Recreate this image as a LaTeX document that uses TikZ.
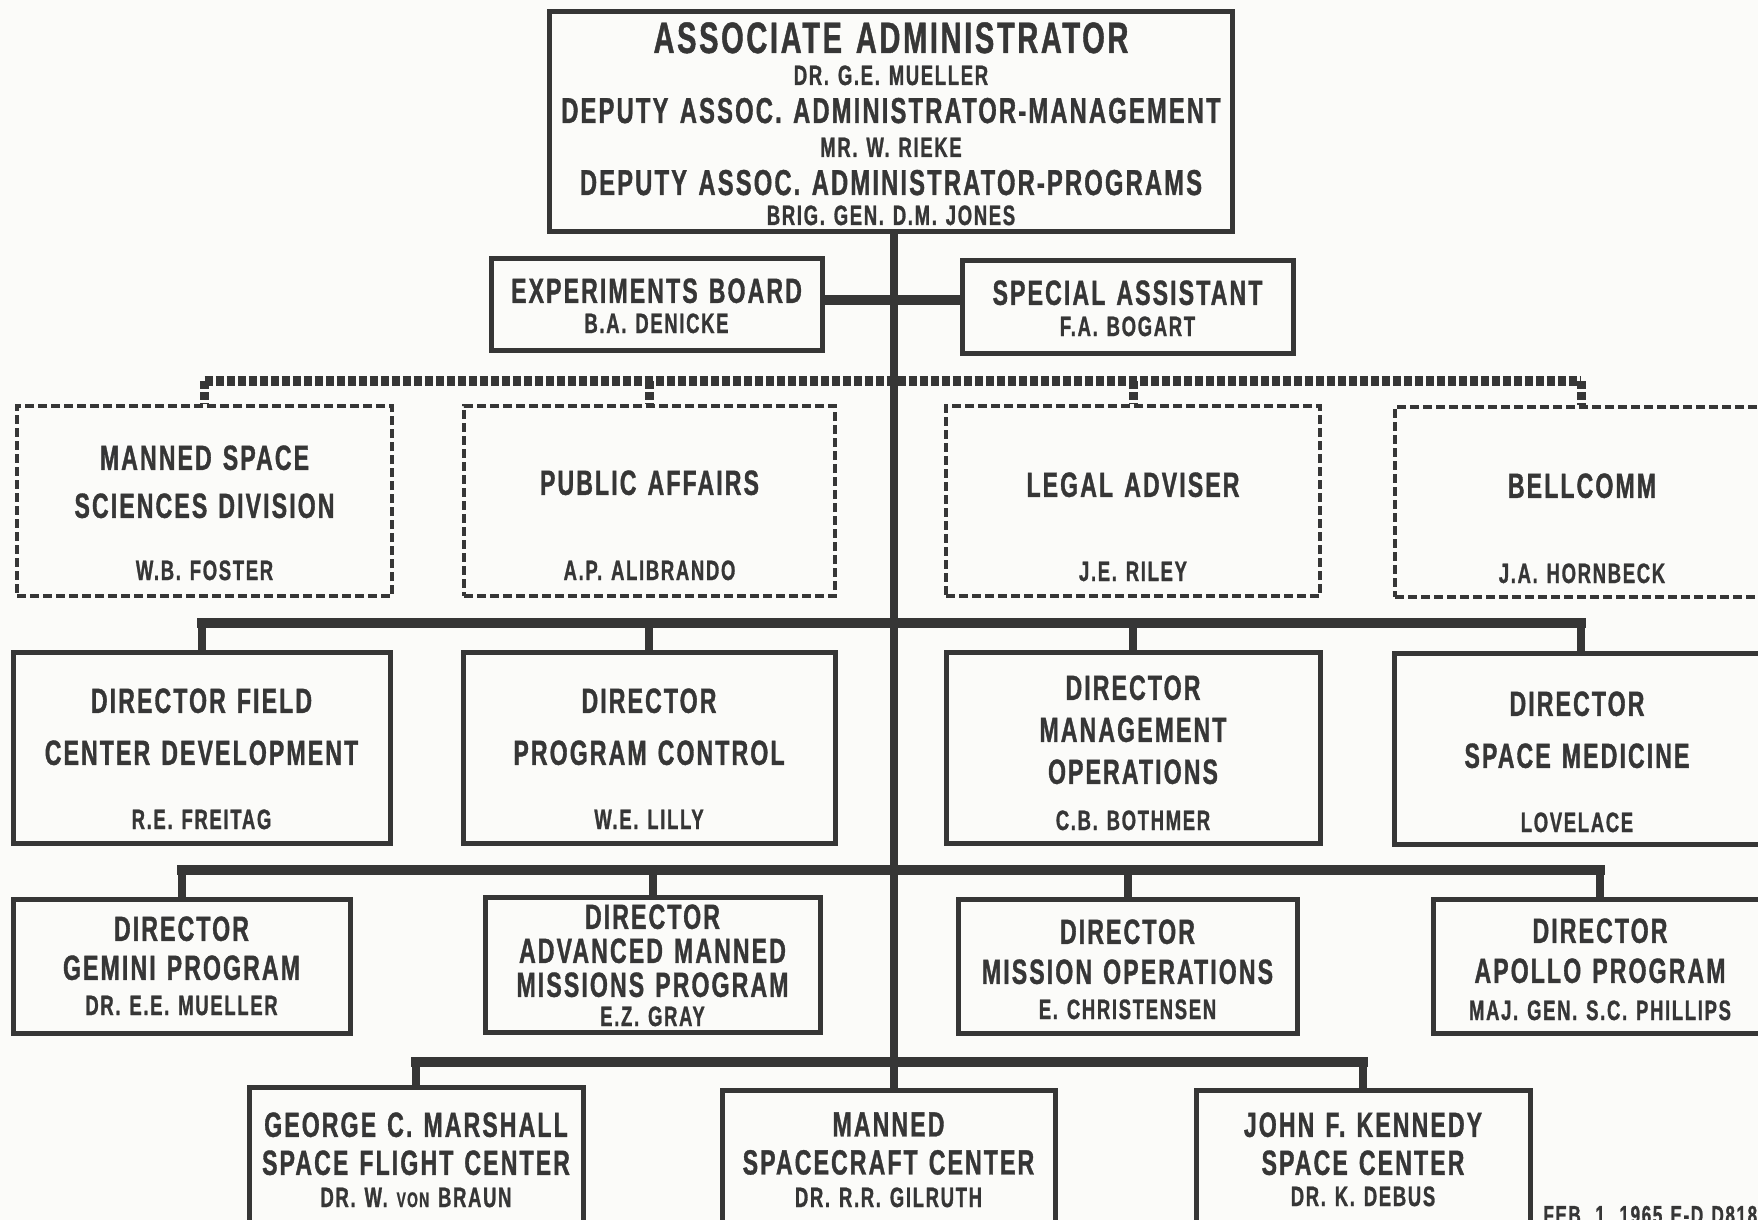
\documentclass[tikz,border=0pt]{standalone}
\usepackage{fontspec}
\setmainfont{Liberation Sans}[FakeStretch=0.66,LetterSpace=6,FakeBold=1,WordSpace=1.3]
\definecolor{ink}{HTML}{363636}
\definecolor{paper}{HTML}{FBFBF9}
\begin{document}
\begin{tikzpicture}[x=0.5pt,y=-0.5pt,
  box/.style={draw=ink, line width=2.5pt, inner sep=0pt, rectangle},
  dbox/.style={draw=ink, line width=2.3pt, dash pattern=on 4.5pt off 2pt, inner sep=0pt, rectangle},
  bar/.style={draw=ink, line width=5pt, line cap=rect},
  drop/.style={draw=ink, line width=4pt},
  trunk/.style={draw=ink, line width=4pt},
  dotbar/.style={draw=ink, line width=5pt, dash pattern=on 4pt off 1.5pt},
  dotdrop/.style={draw=ink, line width=4.5pt, dash pattern=on 4pt off 1.5pt},
  ttl/.style={font={\fontsize{17.5pt}{#1}\selectfont\bfseries}, align=center, anchor=north, inner sep=0pt, text=ink},
  nm/.style={font={\fontsize{14pt}{16pt}\selectfont\bfseries}, anchor=base, inner sep=0pt, text=ink},
  head/.style={font={\fontsize{22pt}{24pt}\selectfont\bfseries}, anchor=base, inner sep=0pt, text=ink},
  deputy/.style={font={\fontsize{18pt}{20pt}\selectfont\bfseries}, anchor=base, inner sep=0pt, text=ink},
  stamp/.style={font={\fontsize{13pt}{14pt}\selectfont\bfseries}, anchor=base west, inner sep=0pt, text=ink}
]
\useasboundingbox (0,0) rectangle (1758,1220);
\clip (0,0) rectangle (1758,1220);
\fill[paper] (0,0) rectangle (1758,1220);

% level heights of the connecting bars and the trunk position
\coordinate (tx) at (894,0);
\coordinate (dl) at (0,381);
\coordinate (l1) at (0,623);
\coordinate (l2) at (0,870);
\coordinate (l3) at (0,1062);
\coordinate (cx) at (0,300);

% ---------- boxes ----------
\node[box, minimum width=341.5pt, minimum height=110pt] (top) at (890.5,122) {};
\node[box, minimum width=165.5pt, minimum height=46pt] (exp) at (656.5,304) {};
\node[box, minimum width=165.5pt, minimum height=46.5pt] (spec) at (1127.5,306.5) {};

\node[dbox, minimum width=187.5pt, minimum height=95pt] (b11) at (204.5,501) {};
\node[dbox, minimum width=185.5pt, minimum height=95pt] (b12) at (649.5,501) {};
\node[dbox, minimum width=187pt, minimum height=95pt] (b13) at (1133,501) {};
\node[dbox, minimum width=186pt, minimum height=95pt] (b14) at (1581,502) {};

\node[box, minimum width=188.5pt, minimum height=95.5pt] (b21) at (201.5,747.5) {};
\node[box, minimum width=186pt, minimum height=95.5pt] (b22) at (649,747.5) {};
\node[box, minimum width=187pt, minimum height=95.5pt] (b23) at (1133,748) {};
\node[box, minimum width=186.5pt, minimum height=95.5pt] (b24) at (1580.5,749) {};

\node[box, minimum width=168.5pt, minimum height=67pt] (b31) at (181.5,966) {};
\node[box, minimum width=167.5pt, minimum height=67.5pt] (b32) at (652.5,965) {};
\node[box, minimum width=169.5pt, minimum height=67pt] (b33) at (1127.5,966) {};
\node[box, minimum width=167pt, minimum height=67pt] (b34) at (1600,966.5) {};

\node[box, minimum width=167pt, minimum height=81.5pt] (b41) at (416,1168.5) {};
\node[box, minimum width=166.5pt, minimum height=80pt] (b42) at (888.5,1170) {};
\node[box, minimum width=167pt, minimum height=80pt] (b43) at (1363,1170) {};

% ---------- connectors ----------
\draw[bar] (exp.east |- cx) -- (spec.west |- cx);

\draw[dotbar] (b11.north |- dl) -- (b14.north |- dl);
\foreach \b in {b11,b12,b13,b14} \draw[dotdrop] (\b.north |- dl) -- (\b.north);

\draw[bar] (b21.north |- l1) -- (b24.north |- l1);
\foreach \b in {b21,b22,b23,b24} \draw[drop] (\b.north |- l1) -- (\b.north);

\draw[bar] (b31.north |- l2) -- (b34.north |- l2);
\foreach \b in {b31,b32,b33,b34} \draw[drop] (\b.north |- l2) -- (\b.north);

\draw[bar] (b41.north |- l3) -- (b43.north |- l3);
\foreach \b in {b41,b43} \draw[drop] (\b.north |- l3) -- (\b.north);

\draw[trunk] (top.south -| tx) -- (b42.north -| tx);

% ---------- texts ----------
\node[head]   (h1) at (891,53)  {ASSOCIATE ADMINISTRATOR};
\node[nm]     (h2) at (891,85)  {DR. G.E. MUELLER};
\node[deputy] (h3) at (891,123) {DEPUTY ASSOC. ADMINISTRATOR-MANAGEMENT};
\node[nm]     (h4) at (891,157) {MR. W. RIEKE};
\node[deputy] (h5) at (891,195) {DEPUTY ASSOC. ADMINISTRATOR-PROGRAMS};
\node[nm]     (h6) at (891,225) {BRIG. GEN. D.M. JONES};

\node[ttl=20pt] (expt) at (656.5,278) {EXPERIMENTS BOARD};
\node[nm] (expn) at (656.5,333) {B.A. DENICKE};
\node[ttl=20pt] (spect) at (1127.5,280) {SPECIAL ASSISTANT};
\node[nm] (specn) at (1127.5,336) {F.A. BOGART};

\node[ttl=24pt] (t11) at (204.5,445) {MANNED SPACE\\SCIENCES DIVISION};
\node[nm] (n11) at (204.5,580) {W.B. FOSTER};
\node[ttl=24pt] (t12) at (649.5,470) {PUBLIC AFFAIRS};
\node[nm] (n12) at (649.5,580) {A.P. ALIBRANDO};
\node[ttl=24pt] (t13) at (1133,472) {LEGAL ADVISER};
\node[nm] (n13) at (1133,581) {J.E. RILEY};
\node[ttl=24pt] (t14) at (1582,473) {BELLCOMM};
\node[nm] (n14) at (1582,583) {J.A. HORNBECK};

\node[ttl=26pt] (t21) at (201.5,688) {DIRECTOR FIELD\\CENTER DEVELOPMENT};
\node[nm] (n21) at (201.5,829) {R.E. FREITAG};
\node[ttl=26pt] (t22) at (649,688) {DIRECTOR\\PROGRAM CONTROL};
\node[nm] (n22) at (649,829) {W.E. LILLY};
\node[ttl=21pt] (t23) at (1133,675) {DIRECTOR\\MANAGEMENT\\OPERATIONS};
\node[nm] (n23) at (1133,830) {C.B. BOTHMER};
\node[ttl=26pt] (t24) at (1577,691) {DIRECTOR\\SPACE MEDICINE};
\node[nm] (n24) at (1577,832) {LOVELACE};

\node[ttl=19.5pt] (t31) at (181.5,916) {DIRECTOR\\GEMINI PROGRAM};
\node[nm] (n31) at (181.5,1015) {DR. E.E. MUELLER};
\node[ttl=17pt] (t32) at (652.5,904) {DIRECTOR\\ADVANCED MANNED\\MISSIONS PROGRAM};
\node[nm] (n32) at (652.5,1026) {E.Z. GRAY};
\node[ttl=20pt] (t33) at (1127.5,919) {DIRECTOR\\MISSION OPERATIONS};
\node[nm] (n33) at (1127.5,1019) {E. CHRISTENSEN};
\node[ttl=20pt] (t34) at (1600,918) {DIRECTOR\\APOLLO PROGRAM};
\node[nm] (n34) at (1600,1020) {MAJ. GEN. S.C. PHILLIPS};

\node[ttl=19pt] (t41) at (416,1112) {GEORGE C. MARSHALL\\SPACE FLIGHT CENTER};
\node[nm] (n41) at (416,1207) {DR. W. {\fontsize{10.5pt}{12pt}\selectfont VON} BRAUN};
\node[ttl=19pt] (t42) at (888.5,1112) {MANNED\\SPACECRAFT CENTER};
\node[nm] (n42) at (888.5,1207) {DR. R.R. GILRUTH};
\node[ttl=19pt] (t43) at (1363,1112) {JOHN F. KENNEDY\\SPACE CENTER};
\node[nm] (n43) at (1363,1206) {DR. K. DEBUS};

\node[stamp] (date) at (1543,1224) {FEB.\ 1, 1965 E-D D818};
\end{tikzpicture}
\end{document}
